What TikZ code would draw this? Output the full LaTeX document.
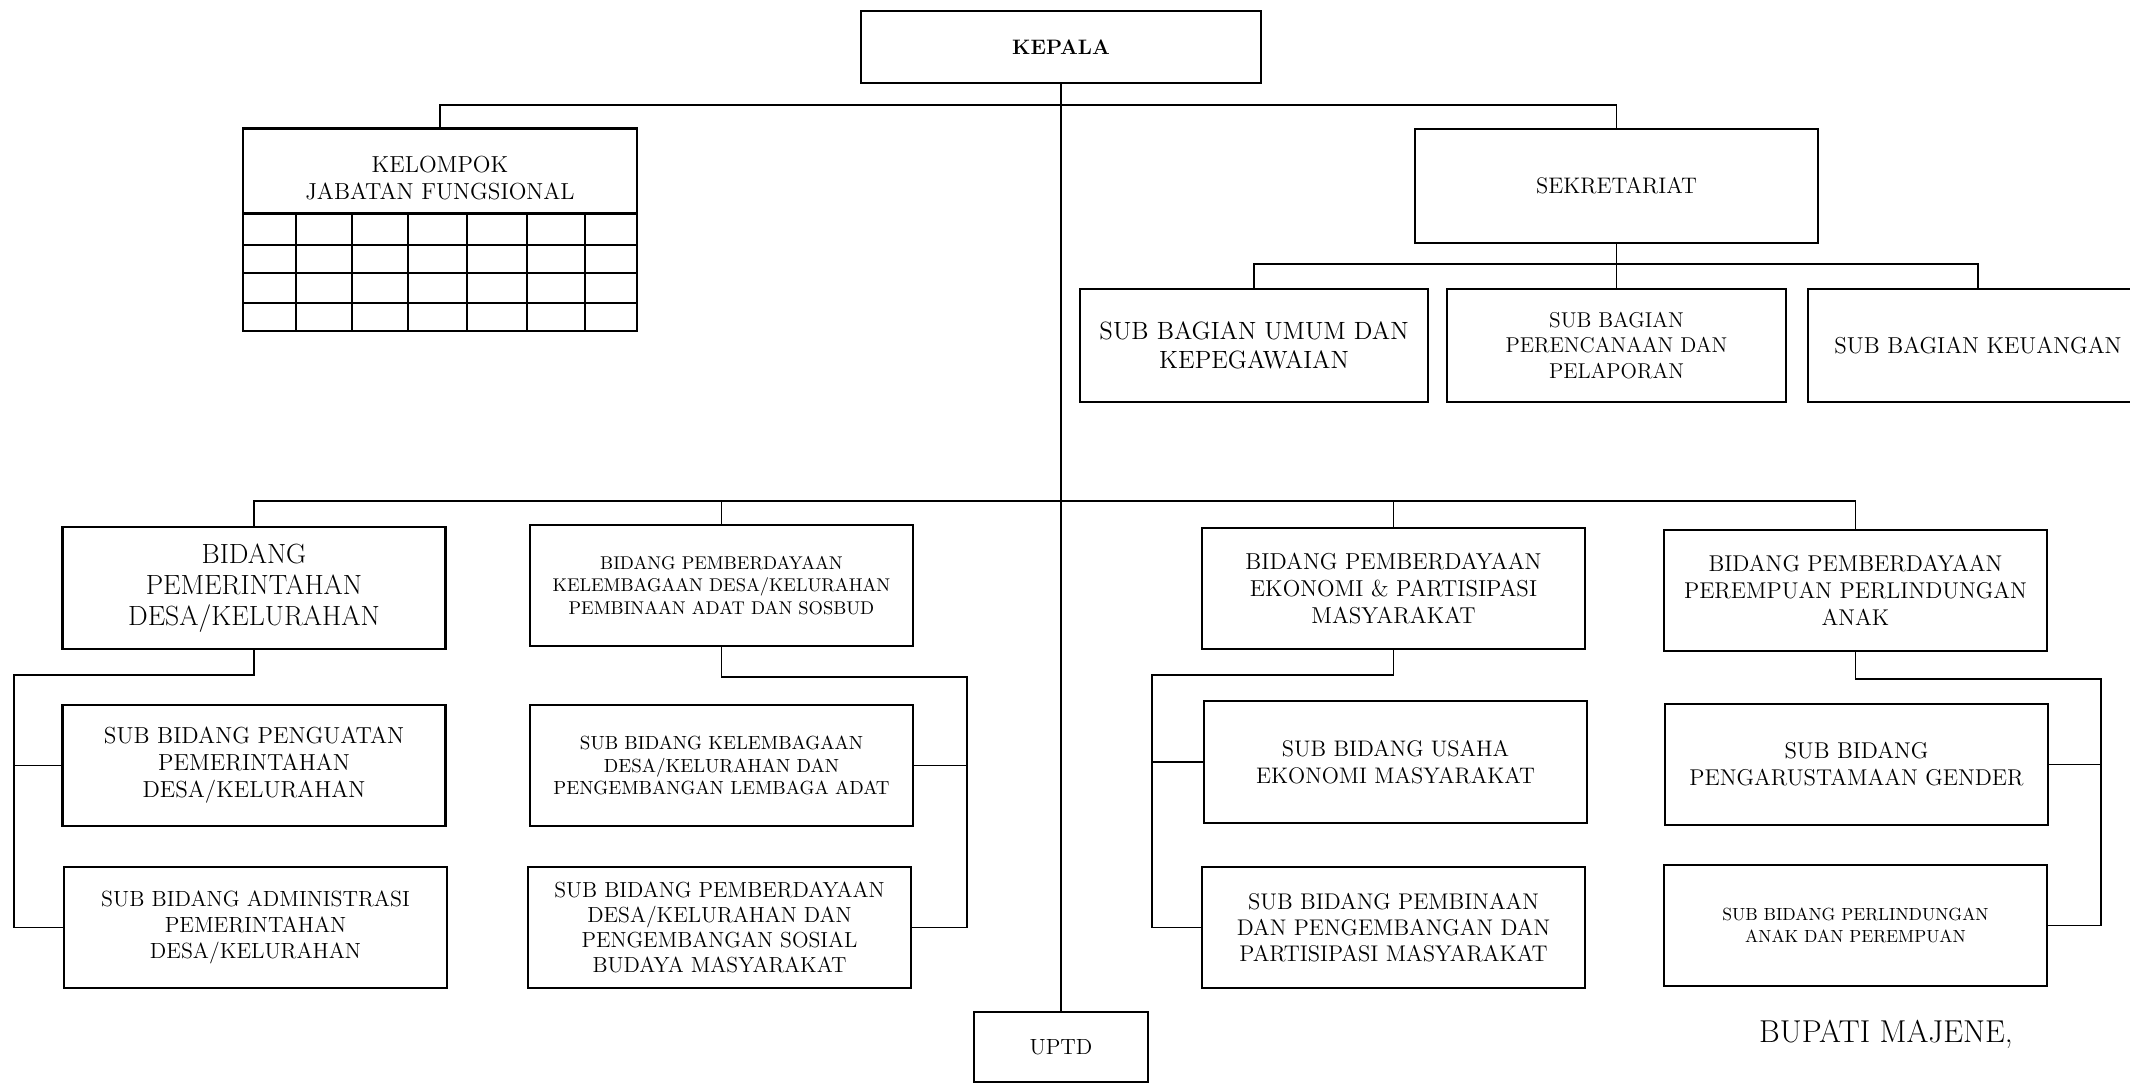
\documentclass[tikz,border=0pt]{standalone}
\usepackage{tikz}
\begin{document}
\begin{tikzpicture}[x=0.02cm,y=-0.02cm,
  kotak/.style={draw,line width=1.4pt,align=center,inner sep=2pt},
  bidang/.style={kotak,minimum width=7.67cm,minimum height=2.43cm},
  sub/.style={kotak,minimum height=2.26cm},
  gr/.style 2 args={font=\fontsize{#1}{#2}\selectfont},
  garis/.style={line width=1pt}]
\useasboundingbox (0,0) rectangle (2130,1084);
%Oben: Kepala, Kelompok und Sekretariat
\node[kotak,minimum width=8cm,minimum height=1.44cm,gr={11.9}{14}] (kepala) at (1061,47) {\textbf{KEPALA}};
\node[kotak,minimum width=7.88cm,minimum height=1.7cm] (kjf) at (440,171) {};
\node[align=center,gr={13.2}{15.6}] (kjftext) at (440,178) {KELOMPOK\\JABATAN FUNGSIONAL};
\node[kotak,minimum width=8.06cm,minimum height=2.28cm,gr={12.8}{15.2}] (sekret) at (1616.5,186) {SEKRETARIAT};
\node[sub,minimum width=6.96cm,gr={14.2}{16.8}] (subumum) at (1254,345.5) {SUB BAGIAN UMUM DAN\\KEPEGAWAIAN};
\node[sub,minimum width=6.78cm,gr={12.2}{14.6}] (subren) at (1616.5,345.5) {SUB BAGIAN\\PERENCANAAN DAN\\PELAPORAN};
\node[sub,minimum width=6.8cm,gr={13.1}{15.5}] (subkeu) at (1978,345.5) {SUB BAGIAN KEUANGAN};
%Tabelle unter dem Kelompok
\draw[line width=1.4pt] (243,214) rectangle (637,331);
\foreach \y in {245,273,303}
  \draw[line width=1.2pt] (243,\y) -- (637,\y);
\foreach \x in {296,352,408,467,527,585}
  \draw[line width=1.2pt] (\x,214) -- (\x,331);
%Bidang
\node[bidang,gr={15.8}{17.8}] (bpem) at (254,588) {BIDANG\\PEMERINTAHAN\\DESA/KELURAHAN};
\node[bidang,gr={10.5}{12.8}] (bkel) at (721.5,585.5) {BIDANG PEMBERDAYAAN\\KELEMBAGAAN DESA/KELURAHAN\\PEMBINAAN ADAT DAN SOSBUD};
\node[bidang,gr={13.1}{15.4}] (beko) at (1393.5,588.5) {BIDANG PEMBERDAYAAN\\EKONOMI \& PARTISIPASI\\MASYARAKAT};
\node[bidang,gr={13}{15.4}] (bppa) at (1855.5,590.5) {BIDANG PEMBERDAYAAN\\PEREMPUAN PERLINDUNGAN\\ANAK};
%Sub Bidang
\node[bidang,gr={13.2}{15.4}] (sb11) at (254,765.5) {SUB BIDANG PENGUATAN\\PEMERINTAHAN\\DESA/KELURAHAN};
\node[bidang,gr={12.5}{14.6}] (sb12) at (255.5,927.5) {SUB BIDANG ADMINISTRASI\\PEMERINTAHAN\\DESA/KELURAHAN};
\node[bidang,gr={10.8}{13}] (sb21) at (721.5,765.5) {SUB BIDANG KELEMBAGAAN\\DESA/KELURAHAN DAN\\PENGEMBANGAN LEMBAGA ADAT};
\node[bidang,gr={12.4}{14.2}] (sb22) at (719.5,927.5) {SUB BIDANG PEMBERDAYAAN\\DESA/KELURAHAN DAN\\PENGEMBANGAN SOSIAL\\BUDAYA MASYARAKAT};
\node[bidang,gr={12.8}{15.4}] (sb31) at (1395.5,762) {SUB BIDANG USAHA\\EKONOMI MASYARAKAT};
\node[bidang,gr={12.9}{15}] (sb32) at (1393.5,927.5) {SUB BIDANG PEMBINAAN\\DAN PENGEMBANGAN DAN\\PARTISIPASI MASYARAKAT};
\node[bidang,gr={13}{15.4}] (sb41) at (1856.5,764.5) {SUB BIDANG\\PENGARUSTAMAAN GENDER};
\node[bidang,gr={10}{12.8}] (sb42) at (1855.5,925.5) {SUB BIDANG PERLINDUNGAN\\ANAK DAN PEREMPUAN};
\node[kotak,minimum width=3.48cm,minimum height=1.4cm,gr={12.5}{15}] (uptd) at (1061,1047) {UPTD};
\node[gr={18}{21}] (bupati) at (1886,1034) {BUPATI MAJENE,};
%Linien
\coordinate (atas) at (1061,105);
\coordinate (sekbar) at (1616.5,264);
\coordinate (bidbar) at (1061,501);
\draw[garis] (kepala) -- (uptd);
\draw[garis] (kjf.north) |- (atas) -| (sekret.north);
\draw[garis] (sekret.south) -- (subren.north);
\draw[garis] (subumum.north) |- (sekbar) -| (subkeu.north);
\draw[garis] (bpem.north) |- (bidbar) -| (bppa.north);
\draw[garis] (bkel.north) |- (bidbar);
\draw[garis] (beko.north) |- (bidbar);
%Klammern zu den Sub Bidang
\coordinate (k1) at (14,675);
\coordinate (k2) at (967,677);
\coordinate (k3) at (1152,675);
\coordinate (k4) at (2101,679);
\draw[garis] (bpem.south) |- (k1) |- (sb12.west);
\draw[garis] (k1) |- (sb11.west);
\draw[garis] (bkel.south) |- (k2) |- (sb22.east);
\draw[garis] (k2) |- (sb21.east);
\draw[garis] (beko.south) |- (k3) |- (sb32.west);
\draw[garis] (k3) |- (sb31.west);
\draw[garis] (bppa.south) |- (k4) |- (sb42.east);
\draw[garis] (k4) |- (sb41.east);
\end{tikzpicture}
\end{document}
